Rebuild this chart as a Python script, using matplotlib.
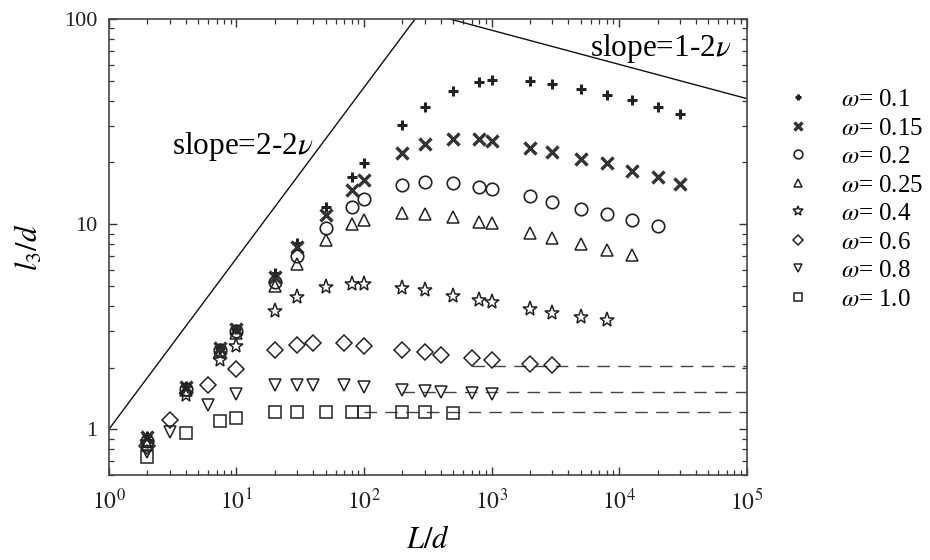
import matplotlib
matplotlib.use('Agg')
import matplotlib.pyplot as plt
import numpy as np

plt.rcParams['font.family'] = ['Liberation Serif', 'DejaVu Serif']
plt.rcParams['mathtext.fontset'] = 'stix'

# ---------------- data ----------------
x_a = [2, 4, 7.5, 10, 20, 30, 50, 80, 100, 200, 300, 500, 800, 1000,
       2000, 3000, 5000, 8000, 12500, 20000, 30000]
x_b = [2, 3, 6, 10, 20, 30, 40, 70, 100, 200, 300, 400, 700, 1000, 2000, 3000]
x_sq = [2, 4, 7.5, 10, 20, 30, 50, 80, 100, 200, 300, 500]

y_w010 = [0.93, 1.62, 2.5, 3.1, 5.8, 8.1, 12.1, 17.0, 19.8, 30.6, 37.3, 44.7,
          49.3, 50.2, 50.0, 48.2, 45.6, 42.5, 40.1, 37.2, 34.4]
y_w015 = [0.92, 1.6, 2.5, 3.1, 5.5, 7.7, 11.1, 14.6, 16.5, 22.3, 24.6, 25.9,
          25.9, 25.5, 23.6, 22.4, 20.7, 19.8, 18.1, 17.0, 15.7]
y_w020 = [0.88, 1.58, 2.45, 3.0, 5.2, 7.0, 9.6, 12.1, 13.2, 15.6, 16.0, 15.9,
          15.2, 14.9, 13.7, 12.8, 11.9, 11.2, 10.5, 9.8]
y_w025 = [0.85, 1.55, 2.4, 2.95, 5.0, 6.4, 8.4, 10.0, 10.5, 11.3, 11.2, 10.9,
          10.2, 10.1, 9.1, 8.6, 8.05, 7.5, 7.06]
y_w040 = [0.87, 1.47, 2.17, 2.54, 3.78, 4.42, 4.94, 5.14, 5.14, 4.91, 4.76,
          4.47, 4.26, 4.18, 3.85, 3.71, 3.53, 3.40]
y_w060 = [0.83, 1.11, 1.65, 1.98, 2.45, 2.59, 2.64, 2.64, 2.54, 2.43, 2.37,
          2.31, 2.23, 2.19, 2.09, 2.05]
y_w080 = [0.78, 0.97, 1.31, 1.48, 1.64, 1.65, 1.65, 1.64, 1.61, 1.56, 1.54,
          1.52, 1.50, 1.49]
y_w100 = [0.73, 0.96, 1.10, 1.14, 1.21, 1.22, 1.22, 1.22, 1.21, 1.21, 1.21, 1.20]

omega_labels = ['0.1', '0.15', '0.2', '0.25', '0.4', '0.6', '0.8', '1.0']

# asymptotes (dashed)
asym_level = [2.03, 1.52, 1.21]
asym_start = [700, 200, 100]

# slope reference lines
nu = 7.0 / 12.0
slope_coef2 = 279.0

x_ticks = [1, 10, 100, 1000, 10000, 100000]
y_ticks = [1, 10, 100]

# ---------------- figure ----------------
fig = plt.figure(figsize=(9.3, 5.6), dpi=100)
ax = fig.add_axes([0.117, 0.152, 0.686, 0.814])

col = '#222222'
series = [
    (x_a, y_w010, dict(marker='+', ms=7, mew=2.2, color=col, ls='none')),
    (x_a, y_w015, dict(marker='x', ms=8, mew=2.4, color='#333333', ls='none')),
    (x_a, y_w020, dict(marker='o', ms=9, mew=1.2, mfc='none', mec=col, ls='none')),
    (x_a, y_w025, dict(marker='^', ms=9, mew=1.1, mfc='none', mec=col, ls='none')),
    (x_a, y_w040, dict(marker='*', ms=11, mew=1.1, mfc='none', mec=col, ls='none')),
    (x_b, y_w060, dict(marker='D', ms=8, mew=1.1, mfc='none', mec=col, ls='none')),
    (x_b, y_w080, dict(marker='v', ms=9, mew=1.1, mfc='none', mec=col, ls='none')),
    (x_sq, y_w100, dict(marker='s', ms=8, mew=1.1, mfc='none', mec=col, ls='none')),
]

xlim = (1, 1e5)
ylim = (0.6, 100)

for lvl, xs in zip(asym_level, asym_start):
    ax.plot([xs, xlim[1]], [lvl, lvl], color='#444444', lw=1.0,
            ls=(0, (9, 6)), zorder=1)

handles = []
for (xs, ys, kw), lab in zip(series, omega_labels):
    n = len(ys)
    h, = ax.plot(xs[:n], ys, label=r'$\omega$= ' + lab, zorder=3, **kw)
    handles.append(h)

xl = np.array([1, 1e5])
ax.plot(xl, xl ** (2 - 2 * nu), color='#111111', lw=1.0, zorder=2)
ax.plot(xl, slope_coef2 * xl ** (1 - 2 * nu), color='#111111', lw=1.0, zorder=2)

ax.text(40, 23.8, r'slope=2-2$\nu$', ha='right', va='center', fontsize=22.5)
ax.text(7.6e4, 72, r'slope=1-2$\nu$', ha='right', va='center', fontsize=22.5)

ax.set_xscale('log')
ax.set_yscale('log')
ax.set_xlim(*xlim)
ax.set_ylim(*ylim)
ax.set_xticks(x_ticks)
ax.set_xticklabels([r'$10^{%d}$' % int(np.log10(v)) for v in x_ticks])
ax.set_yticks(y_ticks)
ax.set_yticklabels([str(v) for v in y_ticks])
ax.tick_params(which='both', direction='in', top=True, right=True,
               colors='#333333', labelcolor='#222222', labelsize=16)
ax.tick_params(which='major', length=6, width=1.0, pad=8)
ax.tick_params(which='minor', length=3.5, width=0.9)
ax.tick_params(axis='x', labelsize=17, pad=10)
for s in ax.spines.values():
    s.set_color('#444444')
    s.set_linewidth(1.2)

ax.set_xlabel(r'$L/d$', fontsize=22, labelpad=8)
ax.set_ylabel(r'$l_3/d$', fontsize=22, labelpad=14)

leg = fig.legend(handles=handles, loc='upper left',
                 bbox_to_anchor=(0.82, 0.882), frameon=False,
                 fontsize=18, markerscale=0.7, handlelength=1.0,
                 handletextpad=1.25, labelspacing=0.24, numpoints=1)

fig.savefig('out.png', dpi=100)
